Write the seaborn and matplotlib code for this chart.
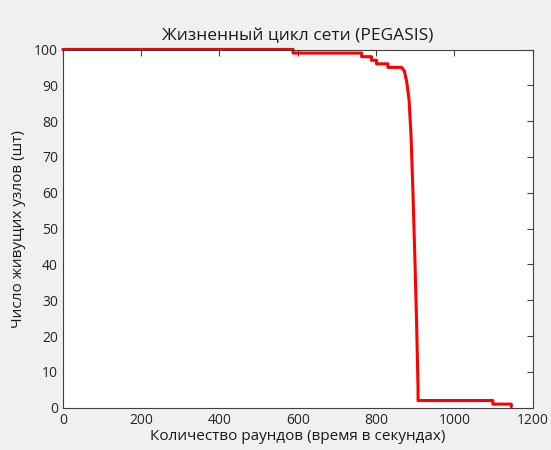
import numpy as np
import pandas as pd
import seaborn as sns
import matplotlib.pyplot as plt

# число живых узлов по раундам
rounds = [0, 588, 588, 763, 763, 788, 788, 801, 801, 830, 830, 865, 872, 878,
          884, 889, 894, 898, 903, 907, 907, 1098, 1098, 1145, 1145]
alive = [100, 100, 99, 99, 98, 98, 97, 97, 96, 96, 95, 95, 94, 91,
         86, 76, 60, 45, 25, 5, 2, 2, 1, 1, 0.3]

xticks = [0, 200, 400, 600, 800, 1000, 1200]
yticks = [0, 10, 20, 30, 40, 50, 60, 70, 80, 90, 100]

sns.set_style('white')
plt.rcParams['font.family'] = ['Open Sans', 'DejaVu Sans']

fig = plt.figure(figsize=(5.51, 4.5), dpi=100, facecolor='#f0f0f0')
ax = fig.add_axes([0.114, 0.094, 0.853, 0.796])
ax.set_facecolor('white')

df = pd.DataFrame({'x': rounds, 'y': alive})
sns.lineplot(data=df, x='x', y='y', sort=False, estimator=None, color='red', linewidth=2.2, ax=ax)
for ln in ax.lines:
    ln.set_clip_on(False)

ax.set_xlim(0, 1200)
ax.set_ylim(0, 100)
ax.set_xticks(xticks)
ax.set_yticks(yticks)
ax.tick_params(direction='in', length=4, width=0.8, colors='#404040', labelsize=10,
               top=True, right=True, labelcolor='#262626')
for s in ax.spines.values():
    s.set_color('#404040')
    s.set_linewidth(0.8)

ax.set_title('Жизненный цикл сети (PEGASIS)', fontsize=12.5, color='#1a1a1a', pad=7)
ax.set_xlabel('Количество раундов (время в секундах)', fontsize=11, color='#1a1a1a', labelpad=1)
ax.set_ylabel('Число живущих узлов (шт)', fontsize=11, color='#1a1a1a', labelpad=6)

fig.savefig('out.png', dpi=100, facecolor=fig.get_facecolor())
